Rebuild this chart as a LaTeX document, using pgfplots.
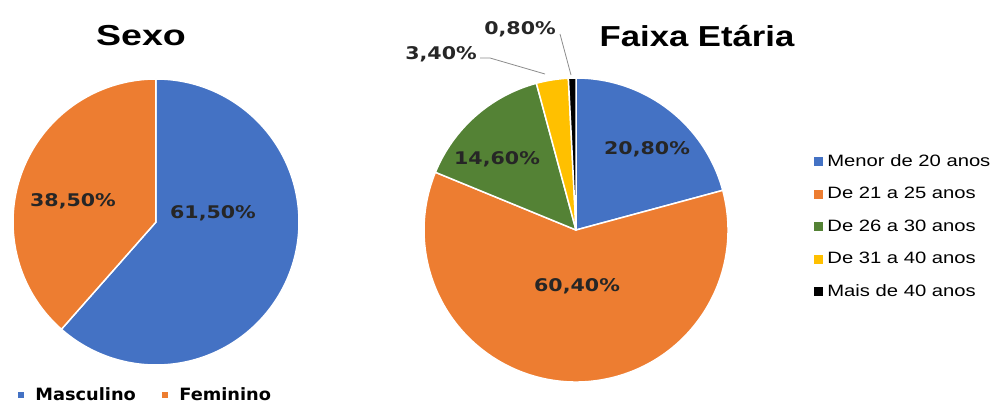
\documentclass[border=0pt]{standalone}
\usepackage{fontspec}
\setmainfont{Liberation Sans}
\newfontfamily\labelfont{DejaVu Sans}
\usepackage{pgfplots}
\usepackage{pgfplotstable}
\pgfplotsset{compat=1.18}

\definecolor{cBlue}{HTML}{4472C4}
\definecolor{cOrange}{HTML}{ED7D31}
\definecolor{cGreen}{HTML}{548235}
\definecolor{cYellow}{HTML}{FFC000}
\definecolor{cBlack}{HTML}{000000}
\definecolor{cLead}{HTML}{8C8C8C}

% percentages, clockwise from 12 o'clock
\pgfplotstableread{
value color
61.5 cBlue
38.5 cOrange
}\sexo
\pgfplotstableread{
value color
20.8 cBlue
60.4 cOrange
14.6 cGreen
3.4  cYellow
0.8  cBlack
}\faixa

% #1 table, #2 #3 centre (axis units = bp), #4 radius in bp
\newcommand\drawpie[4]{%
  \pgfplotstablegetrowsof{#1}%
  \pgfmathtruncatemacro\nrows{\pgfplotsretval-1}%
  \def\curang{90}%
  \pgfplotsforeachungrouped \i in {0,...,\nrows}{%
    \pgfplotstablegetelem{\i}{value}\of{#1}\let\val\pgfplotsretval
    \pgfplotstablegetelem{\i}{color}\of{#1}\let\col\pgfplotsretval
    \pgfmathsetmacro\endang{\curang-3.6*\val}%
    \edef\tmp{\noexpand\filldraw[fill=\col, draw=white, line width=1.5bp, line join=round]
      (axis cs:#2,#3) -- ++(\curang:#4bp)
      arc[start angle=\curang, end angle=\endang, radius=#4bp] -- cycle;}%
    \tmp
    \let\curang\endang
  }%
}

\newcommand\pct[1]{\scalebox{1.18}[1]{\labelfont\bfseries\fontsize{17.5}{18}\selectfont #1}}
\newcommand\ttl[2][1.2]{\scalebox{#1}[1]{\bfseries\fontsize{29}{30}\selectfont #2}}

\pgfplotsset{
  pieaxis/.style={
    hide axis, clip=false, x=1bp, y=1bp,
    xmin=0, xmax=992, ymin=0, ymax=409,
    at={(0,0)}, anchor=south west,
  },
  sq/.style={legend image code/.code={\fill[#1] (0bp,-2.5bp) rectangle (5bp,2.5bp);}},
  sqb/.style={legend image code/.code={\fill[#1] (0bp,-4bp) rectangle (8bp,4bp);}},
}

\begin{document}
\begin{tikzpicture}
\useasboundingbox (0,0) rectangle (992bp,409bp);

% ---- Sexo ----
\begin{axis}[pieaxis,
  legend columns=2,
  legend style={draw=none, fill=none, at={(axis cs:18,14)}, anchor=west,
    inner sep=0pt, outer sep=0pt,
    nodes={inner sep=0pt, anchor=west, font=\labelfont\bfseries\fontsize{17}{18}\selectfont},
    /tikz/every odd column/.append style={column sep=12bp},
    /tikz/every even column/.append style={column sep=26bp}},
]
  \addlegendimage{sq=cBlue}
  \addlegendentry{\scalebox{1.05}[1]{Masculino}}
  \addlegendimage{sq=cOrange}
  \addlegendentry{\scalebox{1.05}[1]{Feminino}}
  \drawpie{\sexo}{156}{187}{143}
  \node at (axis cs:141,373) {\ttl[1.3]{Sexo}};
  \node[text=black!85] at (axis cs:73,208) {\pct{38,50\%}};
  \node[text=black!85] at (axis cs:213,196) {\pct{61,50\%}};
\end{axis}

% ---- Faixa Etaria ----
\begin{axis}[pieaxis,
  legend cell align=left,
  legend style={draw=none, fill=none, at={(axis cs:814,255)}, anchor=north west,
    inner sep=0pt, outer sep=0pt, row sep=17.5bp,
    nodes={inner sep=0pt, text height=12bp, text depth=3bp, anchor=west,
      font=\fontsize{16.5}{17}\selectfont},
    /tikz/every odd column/.append style={column sep=5bp}},
]
  \addlegendimage{sqb=cBlue}
  \addlegendentry{\scalebox{1.23}[1]{Menor de 20 anos}}
  \addlegendimage{sqb=cOrange}
  \addlegendentry{\scalebox{1.23}[1]{De 21 a 25 anos}}
  \addlegendimage{sqb=cGreen}
  \addlegendentry{\scalebox{1.23}[1]{De 26 a 30 anos}}
  \addlegendimage{sqb=cYellow}
  \addlegendentry{\scalebox{1.23}[1]{De 31 a 40 anos}}
  \addlegendimage{sqb=cBlack}
  \addlegendentry{\scalebox{1.23}[1]{Mais de 40 anos}}
  \drawpie{\faixa}{576}{179}{152}
  \node at (axis cs:697,373) {\ttl{Faixa Etária}};
  \node[text=black!85] at (axis cs:647,260) {\pct{20,80\%}};
  \node[text=black!85] at (axis cs:497,250) {\pct{14,60\%}};
  \node[text=black!85] at (axis cs:577,123) {\pct{60,40\%}};
  \node[text=black!85] at (axis cs:441,355) {\pct{3,40\%}};
  \node[text=black!85] at (axis cs:520,380) {\pct{0,80\%}};
  \draw[cLead, line width=0.8bp] (axis cs:480,351) -- (axis cs:490,351) -- (axis cs:545,335);
  \draw[cLead, line width=0.8bp] (axis cs:560,375) -- (axis cs:571,334);
\end{axis}
\end{tikzpicture}
\end{document}
